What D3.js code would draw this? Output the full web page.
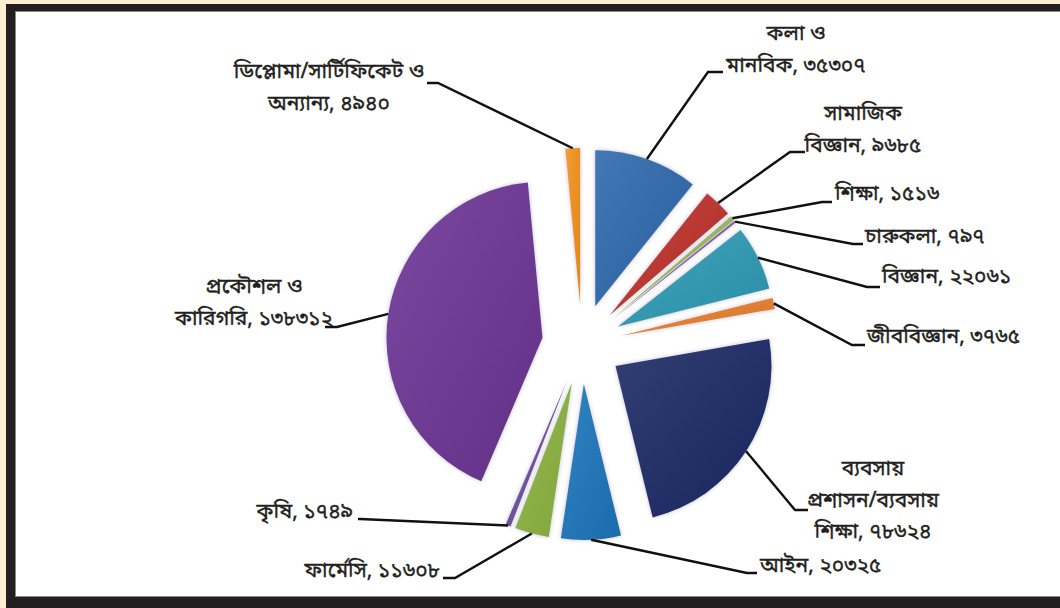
<!DOCTYPE html>
<html>
<head>
<meta charset="utf-8">
<script src="https://cdn.jsdelivr.net/npm/d3@7"></script>
<style>
  html, body { margin: 0; padding: 0; background: #fcefd3; }
  svg { display: block; }
  text { font-family: "Noto Sans Bengali", "Noto Serif Bengali", "Lohit Bengali", "Noto Sans", sans-serif; }
</style>
</head>
<body>
<svg id="chart" width="1060" height="608"></svg>
<script>
// Students by field of study
const categories = [
  "কলা ও\nমানবিক",
  "সামাজিক\nবিজ্ঞান",
  "শিক্ষা",
  "চারুকলা",
  "বিজ্ঞান",
  "জীববিজ্ঞান",
  "ব্যবসায়\nপ্রশাসন/ব্যবসায়\nশিক্ষা",
  "আইন",
  "ফার্মেসি",
  "কৃষি",
  "প্রকৌশল ও\nকারিগরি",
  "ডিপ্লোমা/সার্টিফিকেট ও\nঅন্যান্য"
];
const values = [35307, 9685, 1516, 797, 22061, 3765, 78624, 20325, 11608, 1749, 138312, 4940];
const colors = ["#2f69ae", "#bf322b", "#9cba5c", "#8064a2", "#2f9bb6", "#e8802a",
                "#1f2a66", "#1b76bb", "#8cb440", "#6d4ea0", "#6c3694", "#f4921f"];

// Label placement: text anchor point, alignment, and the leader's elbow / end
const labelLayout = [
  { x: 796, y: 40,  anchor: "middle", elbow: [708, 72],  end: 723 },
  { x: 863, y: 120, anchor: "middle", elbow: [790, 152], end: 805 },
  { x: 835, y: 200, anchor: "start",  elbow: [822, 202], end: 832 },
  { x: 865, y: 243, anchor: "start",  elbow: [853, 244], end: 863 },
  { x: 882, y: 283, anchor: "start",  elbow: [867, 287], end: 880 },
  { x: 867, y: 343, anchor: "start",  elbow: [852, 345], end: 865 },
  { x: 873, y: 475, anchor: "middle", elbow: [795, 510], end: 808 },
  { x: 760, y: 572, anchor: "start",  elbow: [747, 573], end: 757 },
  { x: 440, y: 577, anchor: "end",    elbow: [455, 578], end: 443 },
  { x: 353, y: 518, anchor: "end",    elbow: [360, 519], end: 358 },
  { x: 254, y: 293, anchor: "middle", elbow: [337, 327], end: 325 },
  { x: 329, y: 78,  anchor: "middle", elbow: [438, 83],  end: 427 }
];

const bnDigits = "০১২৩৪৫৬৭৮৯";
const toBn = n => String(n).replace(/\d/g, d => bnDigits[+d]);

const svg = d3.select("#chart");
const W = 1060, H = 608;

// frame
svg.append("rect").attr("x", 6).attr("y", 4).attr("width", W - 6).attr("height", H - 4).attr("fill", "#231f20");
svg.append("rect").attr("x", 15).attr("y", 11).attr("width", W - 15).attr("height", 586).attr("fill", "#8a8788");
svg.append("rect").attr("x", 16).attr("y", 12).attr("width", W - 16).attr("height", 584).attr("fill", "#ffffff");

const defs = svg.append("defs");
const f = defs.append("filter").attr("id", "halo").attr("x", "-20%").attr("y", "-20%").attr("width", "140%").attr("height", "140%");
f.append("feDropShadow").attr("dx", 0).attr("dy", 0).attr("stdDeviation", 2.2)
  .attr("flood-color", "#8c8aa8").attr("flood-opacity", 0.55);

// soft sheen across each wedge
const sheen = defs.append("linearGradient").attr("id", "sheen")
  .attr("x1", 0).attr("y1", 0).attr("x2", 1).attr("y2", 1);
sheen.append("stop").attr("offset", "0%").attr("stop-color", "#fff").attr("stop-opacity", 0.10);
sheen.append("stop").attr("offset", "100%").attr("stop-color", "#000").attr("stop-opacity", 0.08);

const cx = 582, cy = 344, R = 156, explode = 40;

const pie = d3.pie().sort(null).value(d => d)(values);
const arc = d3.arc().innerRadius(0).outerRadius(R);

const slices = svg.append("g").attr("transform", `translate(${cx},${cy})`);

pie.forEach((p, i) => {
  const mid = (p.startAngle + p.endAngle) / 2;
  const ox = Math.sin(mid) * explode, oy = -Math.cos(mid) * explode;
  const g = slices.append("g").attr("transform", `translate(${ox},${oy})`);
  g.append("path")
    .attr("d", arc(p))
    .attr("fill", colors[i])
    .attr("filter", "url(#halo)");
  g.append("path")
    .attr("d", arc(p))
    .attr("fill", "url(#sheen)");

  // leader line from slice edge
  const sx = cx + ox + Math.sin(mid) * R;
  const sy = cy + oy - Math.cos(mid) * R;
  const L = labelLayout[i];
  svg.append("path")
    .attr("d", d3.line()([[sx, sy], L.elbow, [L.end, L.elbow[1]]]))
    .attr("fill", "none").attr("stroke", "#111").attr("stroke-width", 2.4);

  const lines = (categories[i] + ", " + toBn(values[i])).split("\n");
  const t = svg.append("text")
    .attr("x", L.x).attr("y", L.y)
    .attr("text-anchor", L.anchor)
    .attr("font-size", 21).attr("fill", "#231f20")
    .attr("stroke", "#231f20").attr("stroke-width", 0.4);
  lines.forEach((ln, k) => {
    t.append("tspan").attr("x", L.x).attr("dy", k === 0 ? 0 : 31.5).text(ln);
  });
});
</script>
</body>
</html>
